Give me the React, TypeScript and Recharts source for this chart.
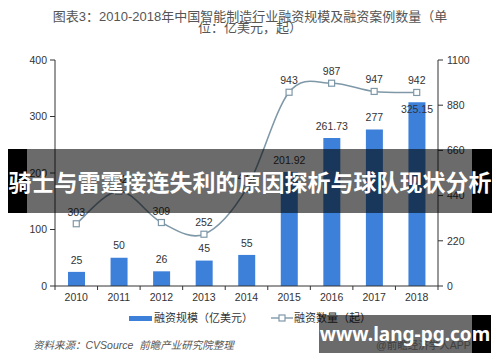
import { Bar, ComposedChart, LabelList, Line, XAxis, YAxis } from "recharts";

const years = ["2010", "2011", "2012", "2013", "2014", "2015", "2016", "2017", "2018"];
const fundingScale = [25, 50, 26, 45, 55, 201.92, 261.73, 277, 325.15];
const dealCounts = [303, 462, 309, 252, 474, 943, 987, 947, 942];
const leftTicks = [0, 100, 200, 300, 400];
const rightTicks = [0, 220, 440, 660, 880, 1100];

const BAR_COLOR = "#3d80d9";
const LINE_COLOR = "#7f98a8";
const FONT = '"Liberation Sans", "Noto Sans CJK SC", sans-serif';

const PLOT_TOP = 60;
const PLOT_BOTTOM = 286;

const data = years.map((year, i) => ({ year, scale: fundingScale[i], count: dealCounts[i] }));

// smooth line like the spreadsheet "smoothed line" (catmull-rom)
const smoothCurve = (context: any) => {
  let pts: number[][] = [];
  return {
    areaStart() {},
    areaEnd() {},
    lineStart() {
      pts = [];
    },
    point(x: number, y: number) {
      pts.push([+x, +y]);
    },
    lineEnd() {
      if (!pts.length) return;
      context.moveTo(pts[0][0], pts[0][1]);
      for (let i = 0; i < pts.length - 1; i++) {
        const p0 = pts[i - 1] || pts[i];
        const p1 = pts[i];
        const p2 = pts[i + 1];
        const p3 = pts[i + 2] || p2;
        context.bezierCurveTo(
          p1[0] + (p2[0] - p0[0]) / 6,
          p1[1] + (p2[1] - p0[1]) / 6,
          p2[0] - (p3[0] - p1[0]) / 6,
          p2[1] - (p3[1] - p1[1]) / 6,
          p2[0],
          p2[1]
        );
      }
    },
  };
};

const SquareDot = (props: any) => {
  const { cx, cy, index } = props;
  return (
    <rect key={`dot-${index}`} x={cx - 3} y={cy - 3} width={6} height={6} fill="#fff" stroke={LINE_COLOR} strokeWidth={1.2} />
  );
};

// bar value label: sits above the bar, pushed just inside the bar top when the line's label is in the way
const BarValueLabel = (props: any) => {
  const { x, y, width, value, index } = props;
  const lineY = PLOT_BOTTOM - (dealCounts[index] / 1100) * (PLOT_BOTTOM - PLOT_TOP);
  let cy = y - 12;
  if (Math.abs(cy - (lineY - 15)) < 22) cy = y + 7;
  return (
    <text x={x + width / 2} y={cy} dy="0.35em" textAnchor="middle" fill="#333" fontSize={10.5} fontFamily={FONT}>
      {value}
    </text>
  );
};

const YearTick = (props: any) => {
  const { x, y, payload, index } = props;
  const half = payload?.offset || 21.25;
  return (
    <g>
      <line x1={x - half} x2={x - half} y1={y} y2={y + 4} stroke="#333" />
      {index === years.length - 1 && <line x1={x + half} x2={x + half} y1={y} y2={y + 4} stroke="#333" />}
      <text x={x} y={y + 15} textAnchor="middle" fill="#333" fontSize={10.5} fontFamily={FONT}>
        {payload.value}
      </text>
    </g>
  );
};

export default function App() {
  return (
    <div style={{ position: "absolute", left: 0, top: 0, width: 500, height: 362, background: "#fff", fontFamily: FONT, overflow: "hidden" }}>
      <div style={{ position: "absolute", left: 0, width: 500, top: 10, textAlign: "center", fontSize: 13, lineHeight: "14px", color: "#555" }}>
        图表3：2010-2018年中国智能制造行业融资规模及融资案例数量（单
      </div>
      <div style={{ position: "absolute", left: 0, width: 500, top: 21, textAlign: "center", fontSize: 13, lineHeight: "14px", color: "#555" }}>
        位：亿美元，起）
      </div>

      <ComposedChart width={500} height={362} data={data} margin={{ top: PLOT_TOP, right: 0, bottom: 56, left: 0 }}>
        <XAxis dataKey="year" xAxisId="x" height={20} tickLine={false} tickSize={0} tickMargin={0} axisLine={{ stroke: "#333" }} tick={<YearTick />} interval={0} />
        <YAxis
          yAxisId="left"
          domain={[0, 400]}
          ticks={leftTicks}
          width={55}
          tickSize={5}
          tickMargin={3}
          axisLine={{ stroke: "#333" }}
          tickLine={{ stroke: "#333" }}
          tick={{ fill: "#333", fontSize: 10.5, fontFamily: FONT }}
          interval={0}
        />
        <YAxis
          yAxisId="right"
          orientation="right"
          domain={[0, 1100]}
          ticks={rightTicks}
          width={62}
          tickSize={5}
          tickMargin={4}
          axisLine={{ stroke: "#333" }}
          tickLine={{ stroke: "#333" }}
          tick={{ fill: "#333", fontSize: 10.5, fontFamily: FONT }}
          interval={0}
        />
        <Bar dataKey="scale" xAxisId="x" yAxisId="left" fill={BAR_COLOR} barSize={17} isAnimationActive={false}>
          <LabelList dataKey="scale" content={<BarValueLabel />} />
        </Bar>
        <Line
          dataKey="count"
          xAxisId="x"
          yAxisId="right"
          type={smoothCurve as any}
          stroke={LINE_COLOR}
          strokeWidth={1.6}
          dot={SquareDot}
          activeDot={false}
          isAnimationActive={false}
        >
          <LabelList dataKey="count" position="top" offset={8} fill="#333" fontSize={10.5} fontFamily={FONT} />
        </Line>
      </ComposedChart>

      {/* legend */}
      <div style={{ position: "absolute", left: 129, top: 316, width: 23, height: 5, background: BAR_COLOR }} />
      <div style={{ position: "absolute", left: 154, top: 311, fontSize: 11, lineHeight: "14px", color: "#333" }}>融资规模（亿美元）</div>
      <svg style={{ position: "absolute", left: 271, top: 313 }} width={22} height={10}>
        <line x1={0} x2={22} y1={5} y2={5} stroke={LINE_COLOR} strokeWidth={1.4} />
        <rect x={8} y={2} width={6} height={6} fill="#fff" stroke={LINE_COLOR} strokeWidth={1.2} />
      </svg>
      <div style={{ position: "absolute", left: 294, top: 311, fontSize: 11, lineHeight: "14px", color: "#333" }}>融资数量（起）</div>

      <div style={{ position: "absolute", left: 33, top: 338, fontSize: 10.5, lineHeight: "14px", color: "#555", fontStyle: "italic" }}>
        资料来源：CVSource&nbsp;&nbsp;前瞻产业研究院整理
      </div>
      <div style={{ position: "absolute", left: 376, top: 338, fontSize: 10.5, lineHeight: "14px", color: "#999" }}>@前瞻经济学人APP</div>

      {/* headline banner */}
      <div style={{ position: "absolute", left: 8, top: 149, width: 19, height: 64, background: "#000" }} />
      <div style={{ position: "absolute", left: 27, top: 149, width: 445, height: 64, background: "rgba(0,0,0,0.58)" }} />
      <div style={{ position: "absolute", left: 472, top: 149, width: 20, height: 64, background: "#000" }} />
      <div
        style={{
          position: "absolute",
          left: 0,
          width: 500,
          top: 149,
          height: 64,
          lineHeight: "64px",
          textAlign: "center",
          color: "#fff",
          fontWeight: 700,
          fontSize: 23,
          fontFamily: '"Noto Sans CJK SC", sans-serif',
          whiteSpace: "nowrap",
        }}
      >
        骑士与雷霆接连失利的原因探析与球队现状分析
      </div>

      {/* site watermark */}
      <div style={{ position: "absolute", left: 319, top: 315, width: 153, height: 38, background: "rgba(0,0,0,0.58)" }} />
      <div style={{ position: "absolute", left: 472, top: 315, width: 19, height: 38, background: "#000" }} />
      <div
        style={{
          position: "absolute",
          left: 319,
          width: 172,
          top: 315,
          height: 38,
          lineHeight: "38px",
          textAlign: "center",
          color: "#fff",
          fontWeight: 700,
          fontSize: 19,
          fontFamily: '"Noto Sans", sans-serif',
          whiteSpace: "nowrap",
        }}
      >
        www.lang-pg.com
      </div>
    </div>
  );
}
